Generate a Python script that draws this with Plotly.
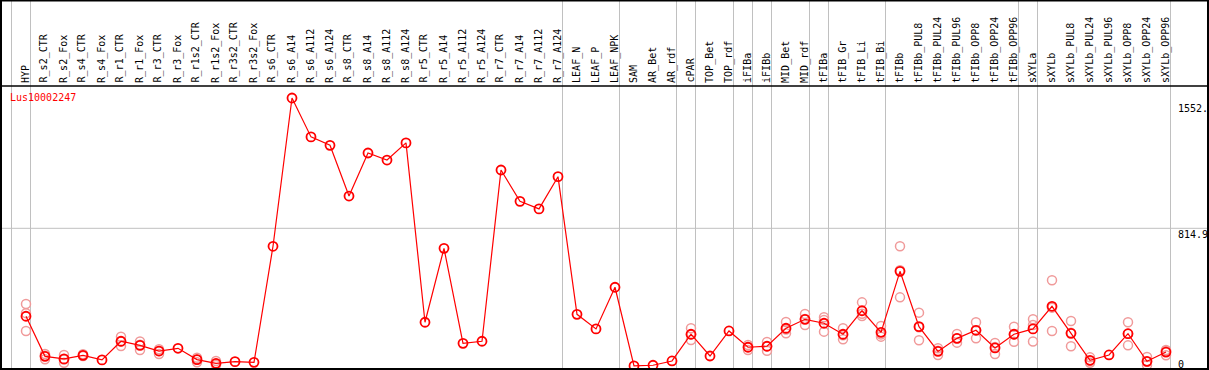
import plotly.graph_objects as go

categories = ["HYP", "R_s2_CTR", "R_s2_Fox", "R_s4_CTR", "R_s4_Fox", "R_r1_CTR", "R_r1_Fox",
              "R_r3_CTR", "R_r3_Fox", "R_r1s2_CTR", "R_r1s2_Fox", "R_r3s2_CTR", "R_r3s2_Fox",
              "R_s6_CTR", "R_s6_A14", "R_s6_A112", "R_s6_A124", "R_s8_CTR", "R_s8_A14", "R_s8_A112",
              "R_s8_A124", "R_r5_CTR", "R_r5_A14", "R_r5_A112", "R_r5_A124", "R_r7_CTR", "R_r7_A14",
              "R_r7_A112", "R_r7_A124", "LEAF_N", "LEAF_P", "LEAF_NPK", "SAM", "AR_Bet", "AR_rdf",
              "cPAR", "TOP_Bet", "TOP_rdf", "iFIBa", "iFIBb", "MID_Bet", "MID_rdf", "tFIBa",
              "tFIB_Gr", "tFIB_Li", "tFIB_Bi", "tFIBb", "tFIBb_PUL8", "tFIBb_PUL24", "tFIBb_PUL96",
              "tFIBb_OPP8", "tFIBb_OPP24", "tFIBb_OPP96", "sXYLa", "sXYLb", "sXYLb_PUL8",
              "sXYLb_PUL24", "sXYLb_PUL96", "sXYLb_OPP8", "sXYLb_OPP24", "sXYLb_OPP96"]

group_sizes = [1, 28, 3, 3, 1, 2, 1, 1, 2, 1, 3, 7, 1, 7]

mean_values = [302, 68, 53, 74, 47, 156, 132, 99, 115, 49, 27, 37, 33,
               710, 1575, 1348, 1299, 1003, 1254, 1213, 1313, 267, 698, 144, 156,
               1155, 972, 928, 1116, 313, 228, 471, 12, 16, 41,
               197, 70, 216, 121, 127, 232, 284, 261,
               197, 334, 208, 564, 241, 97, 173, 220, 117, 197,
               228, 360, 202, 45, 76, 200, 39, 93]

replicates = [[373, 320, 216], [82, 71, 51], [76, 50, 31], [80, 70, 72], [], [183, 155, 128],
              [155, 136, 105], [109, 99, 82], [], [60, 50, 33], [41, 25, 17], [], [],
              [], [], [], [], [], [], [], [], [], [], [], [], [], [], [], [],
              [], [], [], [], [], [],
              [232, 196, 163], [], [], [134, 122, 105], [152, 127, 101], [268, 225, 202],
              [315, 286, 251], [296, 280, 212], [232, 191, 167], [383, 316, 303],
              [245, 196, 183], [710, 570, 412], [323, 238, 162], [115, 100, 76],
              [198, 173, 148], [267, 220, 173], [146, 122, 82], [241, 196, 153],
              [284, 251, 155], [512, 352, 216], [274, 205, 127], [62, 41, 31], [],
              [267, 200, 132], [64, 36, 17], [105, 100, 74]]

gene_name = "Lus10002247"
y_labels = ["1552.", "814.9", "0"]
y_label_values = [1552, 814.9, 0]

W, H = 1209, 370
FONT = "DejaVu Sans Mono"
RED = "#ff0000"
PALE = "#f09a9a"
GRAY = "#c0c0c0"

# pixel mapping: category i -> 26 + 19 i ; value 0 -> y 368, 814.9 -> y 228.3
step = 19.0
x0_pix = 26.0
xr = [-x0_pix / step, (W - x0_pix) / step]
scale = (368.0 - 228.3) / 814.9
yr = [-(H - 368.0) / scale, 368.0 / scale]

idx = list(range(len(categories)))

fig = go.Figure()

rx, ry = [], []
for i, reps in enumerate(replicates):
    for v in reps:
        rx.append(i)
        ry.append(v)
fig.add_trace(go.Scatter(x=rx, y=ry, mode="markers",
                         marker=dict(symbol="circle-open", size=9, color=PALE,
                                     line=dict(width=1.5, color=PALE)),
                         hoverinfo="skip", showlegend=False))
fig.add_trace(go.Scatter(x=idx, y=mean_values, mode="lines+markers",
                         line=dict(color=RED, width=1.2),
                         marker=dict(symbol="circle-open", size=9, color=RED,
                                     line=dict(width=1.8, color=RED)),
                         text=categories, showlegend=False))

shapes = []
ends = [-1]
acc = -1
for g in group_sizes:
    acc += g
    ends.append(acc)
for e in ends:
    xs = e + 4.5 / step
    shapes.append(dict(type="line", xref="x", yref="paper", x0=xs, x1=xs, y0=0, y1=1,
                       line=dict(color=GRAY, width=1), layer="below"))
shapes.append(dict(type="line", xref="paper", yref="y", x0=0, x1=1, y0=814.9, y1=814.9,
                   line=dict(color=GRAY, width=1), layer="below"))


def py(p):
    return 1 - p / H


def px(p):
    return p / W


shapes.append(dict(type="line", xref="paper", yref="paper", x0=0, x1=1, y0=py(86), y1=py(86),
                   line=dict(color="black", width=1.5)))
shapes.append(dict(type="line", xref="paper", yref="paper", x0=0, x1=1, y0=py(0.5), y1=py(0.5),
                   line=dict(color="black", width=2)))
shapes.append(dict(type="line", xref="paper", yref="paper", x0=0, x1=1, y0=py(369), y1=py(369),
                   line=dict(color="black", width=2)))
shapes.append(dict(type="line", xref="paper", yref="paper", x0=px(1), x1=px(1), y0=0, y1=1,
                   line=dict(color="black", width=2)))
shapes.append(dict(type="line", xref="paper", yref="paper", x0=px(1208), x1=px(1208), y0=0, y1=1,
                   line=dict(color="black", width=2)))

annotations = []
for i, c in enumerate(categories):
    annotations.append(dict(x=i - 0.03, y=py(83.5), xref="x", yref="paper", text=c,
                            textangle=-90, showarrow=False, xanchor="center", yanchor="bottom",
                            font=dict(family=FONT, size=10, color="black"),
                            borderpad=0))
annotations.append(dict(x=px(9), y=py(97.5), xref="paper", yref="paper", text=gene_name,
                        showarrow=False, xanchor="left", yanchor="middle",
                        font=dict(family=FONT, size=10, color=RED), borderpad=0))
for lab, v in zip(y_labels, y_label_values):
    if v == 0:
        annotations.append(dict(x=px(1177), y=py(358), xref="paper", yref="paper", text=lab,
                                showarrow=False, xanchor="left", yanchor="top",
                                font=dict(family=FONT, size=10, color="black"), borderpad=0))
    else:
        annotations.append(dict(x=px(1177), y=v, xref="paper", yref="y", text=lab,
                                showarrow=False, xanchor="left", yanchor="top",
                                font=dict(family=FONT, size=10, color="black"), borderpad=0))

fig.update_layout(
    width=W, height=H,
    margin=dict(l=0, r=0, t=0, b=0),
    paper_bgcolor="white", plot_bgcolor="white",
    xaxis=dict(range=xr, visible=False, showgrid=False, zeroline=False),
    yaxis=dict(range=yr, visible=False, showgrid=False, zeroline=False),
    shapes=shapes, annotations=annotations,
    showlegend=False,
)

fig.write_html("out.html", config={"displayModeBar": False},
               post_script="document.body.style.margin='0';document.body.style.overflow='hidden';")
